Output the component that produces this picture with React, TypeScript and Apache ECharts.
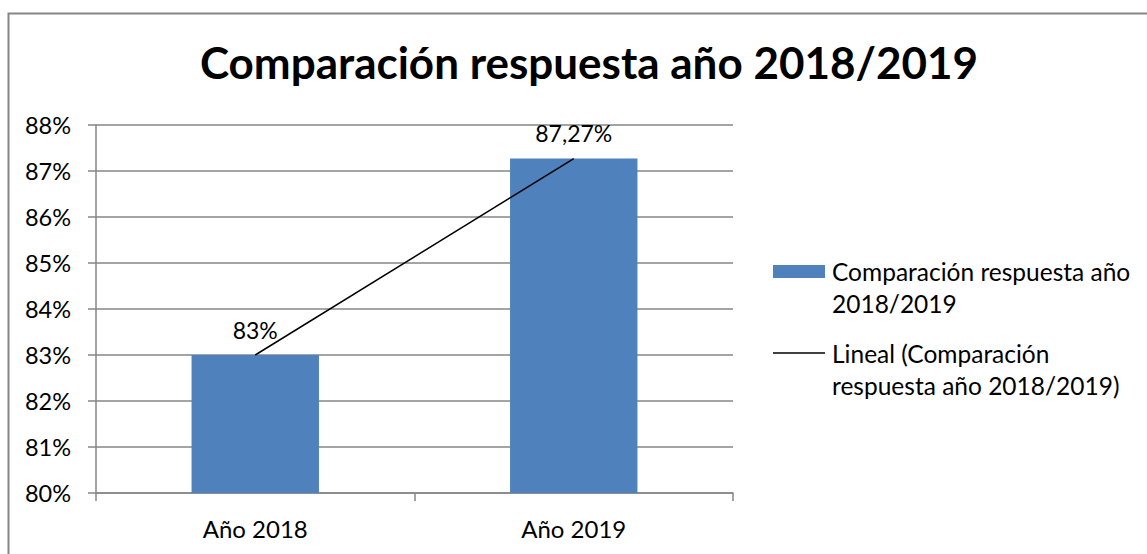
import React, { useEffect, useRef } from "react";
import * as echarts from "echarts";

const categories = ["Año 2018", "Año 2019"];
const values = [83, 87.27];
const valueLabels = ["83%", "87,27%"];
const titleText = "Comparación respuesta año 2018/2019";
const seriesName = "Comparación respuesta año 2018/2019";
const trendName = "Lineal (Comparación respuesta año 2018/2019)";
const legendLines1 = ["Comparación respuesta año", "2018/2019"];
const legendLines2 = ["Lineal (Comparación", "respuesta año 2018/2019)"];
const yTicks = [80, 81, 82, 83, 84, 85, 86, 87, 88];

// linear least-squares trendline over category index
function trend(vals: number[]): number[] {
  const n = vals.length;
  const xs = vals.map((_, i) => i + 1);
  const mx = xs.reduce((a, b) => a + b, 0) / n;
  const my = vals.reduce((a, b) => a + b, 0) / n;
  let num = 0, den = 0;
  xs.forEach((x, i) => { num += (x - mx) * (vals[i] - my); den += (x - mx) * (x - mx); });
  const b = num / den;
  const a = my - b * mx;
  return xs.map((x) => a + b * x);
}

const FONT = "Lato";

export default function App() {
  const ref = useRef<HTMLDivElement>(null);
  useEffect(() => {
    const chart = echarts.init(ref.current!, null, { renderer: "svg" });
    const gray = "#868686";
    const legendText = (t: string, y: number) => ({
      type: "text",
      x: 832,
      y,
      style: { text: t, fontSize: 24.5, fontFamily: FONT, fill: "#000", verticalAlign: "middle" },
    });
    chart.setOption({
      animation: false,
      textStyle: { fontFamily: FONT },
      title: {
        text: titleText,
        left: 584,
        textAlign: "center",
        top: 35,
        textStyle: { fontFamily: FONT, fontWeight: "bold", fontSize: 44, color: "#000" },
      },
      grid: { left: 96, right: 414, top: 125, bottom: 61 },
      xAxis: {
        type: "category",
        data: categories,
        axisLine: { lineStyle: { color: gray, width: 1.5 } },
        axisTick: { show: true, length: 8, lineStyle: { color: gray, width: 1.5 } },
        axisLabel: { color: "#000", fontSize: 24, margin: 23, fontFamily: FONT },
      },
      yAxis: {
        type: "value",
        min: 80,
        max: 88,
        interval: 1,
        axisLine: { show: true, lineStyle: { color: gray, width: 1.5 } },
        axisTick: { show: true, length: 8, lineStyle: { color: gray, width: 1.5 } },
        splitLine: { lineStyle: { color: gray, width: 1.5 } },
        axisLabel: {
          color: "#000",
          fontSize: 23.5,
          margin: 25,
          fontFamily: FONT,
          formatter: (v: number) => (yTicks.includes(v) ? `${v}%` : ""),
        },
      },
      series: [
        {
          name: seriesName,
          type: "bar",
          data: values,
          barWidth: "40%",
          itemStyle: { color: "#4F81BD" },
          label: {
            show: true,
            position: "top",
            distance: 14,
            color: "#000",
            fontSize: 23,
            fontFamily: FONT,
            formatter: (p: any) => valueLabels[p.dataIndex],
          },
        },
        {
          name: trendName,
          type: "line",
          data: trend(values),
          symbol: "none",
          lineStyle: { color: "#000", width: 1.5 },
          z: 5,
        },
      ],
      graphic: [
        {
          type: "rect",
          shape: { x: 8.5, y: 13.5, width: 1300, height: 700 },
          style: { fill: "none", stroke: gray, lineWidth: 2 },
          silent: true,
          z: -10,
        },
        {
          type: "rect",
          shape: { x: 773, y: 265, width: 52, height: 13 },
          style: { fill: "#4F81BD" },
        },
        legendText(legendLines1[0], 271),
        legendText(legendLines1[1], 303),
        {
          type: "line",
          shape: { x1: 773, y1: 353, x2: 825, y2: 353 },
          style: { stroke: "#000", lineWidth: 1.5 },
        },
        legendText(legendLines2[0], 353),
        legendText(legendLines2[1], 385),
      ],
    });
    return () => chart.dispose();
  }, []);
  return (
    <div
      ref={ref}
      style={{ position: "fixed", left: 0, top: 0, width: 1147, height: 554, background: "#fff" }}
    />
  );
}
